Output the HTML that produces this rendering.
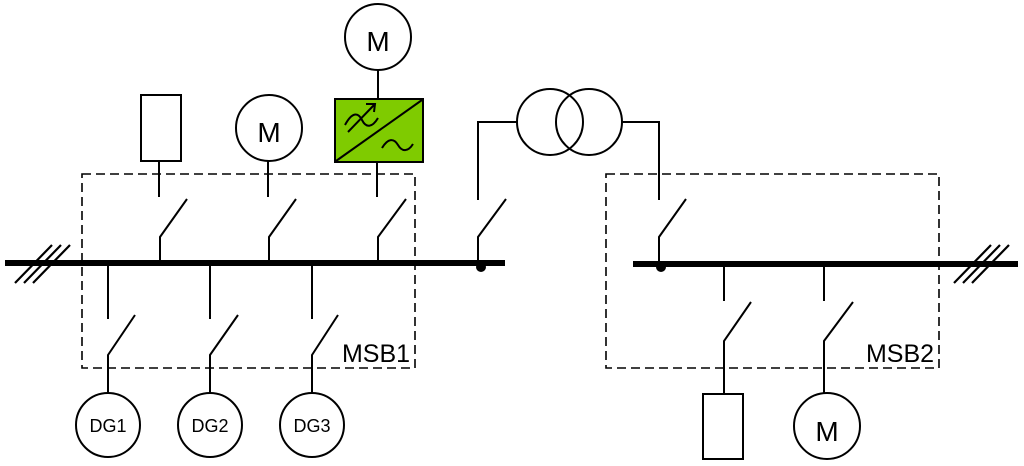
<!DOCTYPE html>
<html><head><style>html,body{margin:0;padding:0;background:#fff;}svg{display:block}</style></head>
<body>
<svg width="1024" height="466" viewBox="0 0 1024 466" xmlns="http://www.w3.org/2000/svg" font-family="Liberation Sans, sans-serif">
<g fill="none" stroke="#000" stroke-width="2">
<rect x="82" y="174" width="333" height="194" stroke-dasharray="9,5" stroke-width="1.6"/>
<rect x="606" y="174" width="333" height="194" stroke-dasharray="9,5" stroke-width="1.6"/>
<path d="M15 283 L52 245 M24 283 L61 245 M33 283 L70 245" stroke-width="2.2"/>
<path d="M954 283 L991 245 M963 283 L1000 245 M972 283 L1009 245" stroke-width="2.2"/>
<rect x="141" y="95" width="40" height="66"/>
<circle cx="269" cy="128" r="33"/>
<circle cx="378" cy="37" r="33"/>
<line x1="378" y1="70" x2="378" y2="99"/>
<path d="M159 161 V197 M187 199 L160 237 V263"/>
<path d="M268 161 V197 M296 199 L269 237 V263"/>
<path d="M377 162 V197 M406 199 L378 237 V263"/>
<path d="M108 263 V319 M135 315 L108 355 V393"/>
<path d="M210 263 V319 M238 315 L210 355 V393"/>
<path d="M312 263 V319 M338 315 L312 355 V393"/>
<circle cx="108" cy="425" r="32"/>
<circle cx="210" cy="425" r="32"/>
<circle cx="312" cy="425" r="32"/>
<circle cx="550" cy="122" r="33"/>
<circle cx="589" cy="122" r="33"/>
<path d="M517 122 H478 V200 M506 199 L478 237 V263"/>
<path d="M622 122 H659 V200 M686 199 L659 237 V263"/>
<path d="M724 264 V301 M751 302 L724 341 V394"/>
<path d="M824 264 V301 M853 302 L824 341 V393"/>
<rect x="703" y="394" width="40" height="65"/>
<circle cx="827" cy="426" r="33"/>
</g>
<rect x="335" y="99" width="88" height="63" fill="#7fcb00" stroke="#000" stroke-width="2"/>
<g fill="none" stroke="#000" stroke-width="2">
<line x1="336" y1="161" x2="422" y2="100"/>
<path d="M345 125 C352 112 358 112 362 120 C366 128 372 128 378 118"/>
<path d="M348 132 L374 105 M366 104 L375 104 L374 112"/>
<path d="M382 148 C388 138 394 138 398 145 C402 152 408 152 413 144"/>
</g>
<rect x="5" y="260" width="500" height="6" fill="#000"/>
<rect x="633" y="261" width="385" height="6" fill="#000"/>
<circle cx="481" cy="267" r="5" fill="#000"/>
<circle cx="661" cy="267" r="5" fill="#000"/>
<g fill="#000" text-anchor="middle">
<text x="269" y="142" font-size="28">M</text>
<text x="378" y="51" font-size="28">M</text>
<text x="827" y="441" font-size="28">M</text>
<text x="108" y="432" font-size="18">DG1</text>
<text x="210" y="432" font-size="18">DG2</text>
<text x="312" y="432" font-size="18">DG3</text>
<text x="376" y="362" font-size="25">MSB1</text>
<text x="900" y="362" font-size="25">MSB2</text>
</g>
</svg>
</body></html>
